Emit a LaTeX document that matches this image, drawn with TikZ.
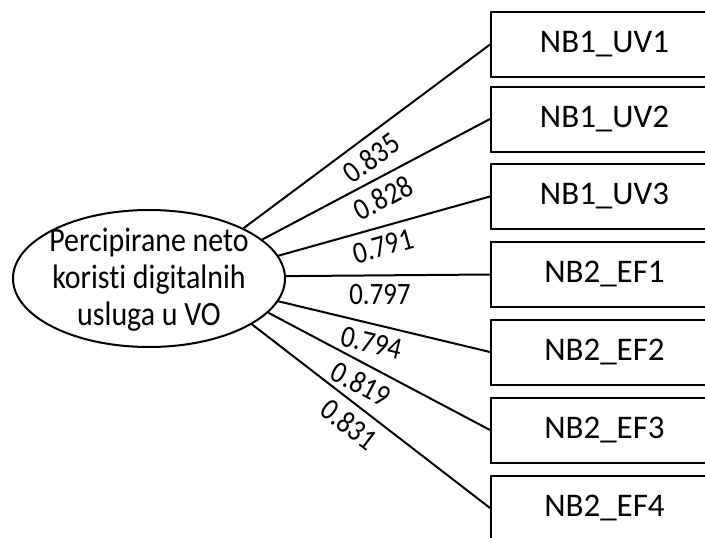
\documentclass[tikz,border=0pt]{standalone}
\usepackage{fontspec}
\setmainfont{Carlito}[Ligatures={NoCommon}]
\newfontfamily\ellfont{Carlito}[Ligatures={NoCommon}, FakeStretch=0.88]
\newfontfamily\lblfont{Carlito}[Ligatures={NoCommon}, FakeStretch=0.87]
\usetikzlibrary{shapes.geometric}
\begin{document}
\begin{tikzpicture}[x=1pt,y=-1pt,
  box/.style={draw, line width=2pt, minimum width=227pt, minimum height=65pt, inner sep=0pt, font=\fontsize{33}{40}\selectfont},
  ell/.style={draw, ellipse, line width=2pt, minimum width=272pt, minimum height=137pt, inner sep=0pt},
  etext/.style={align=center, inner sep=0pt, font=\ellfont\fontsize{34}{37}\selectfont},
  link/.style={line width=2pt},
  lbl/.style={sloped, below=5pt, inner sep=3pt, font=\lblfont\fontsize{31}{34}\selectfont}]
\useasboundingbox (0,0) rectangle (705,538);
\clip (0,0) rectangle (705,538);
\node[ell] (e) at (149,278.5) {};
\node[etext] (et) at (149,280) {Percipirane neto\\koristi digitalnih\\usluga u VO};
\node[box] (b1) at (604.5,44.5) {NB1\_UV1};
\node[box] (b2) at (604.5,119) {NB1\_UV2};
\node[box] (b3) at (604.5,196.5) {NB1\_UV3};
\node[box] (b4) at (604.5,274.5) {NB2\_EF1};
\node[box] (b5) at (604.5,352) {NB2\_EF2};
\node[box] (b6) at (604.5,430) {NB2\_EF3};
\node[box] (b7) at (604.5,508) {NB2\_EF4};
\draw[link] (e.28) -- node[lbl, pos=0.47] (l1) {0.835} (b1.west);
\draw[link] (e.19.6) -- node[lbl, pos=0.49] (l2) {0.828} (b2.west);
\draw[link] (e.10.2) -- node[lbl, pos=0.47] (l3) {0.791} (b3.west);
\draw[link] (e.1.2) -- node[lbl, pos=0.46] (l4) {0.797} (b4.west);
\draw[link] (e.-10.2) -- node[lbl, pos=0.46] (l5) {0.794} (b5.west);
\draw[link] (e.-16.2) -- node[lbl, pos=0.46] (l6) {0.819} (b6.west);
\draw[link] (e.-24.1) -- node[lbl, pos=0.46] (l7) {0.831} (b7.west);
\end{tikzpicture}
\end{document}
